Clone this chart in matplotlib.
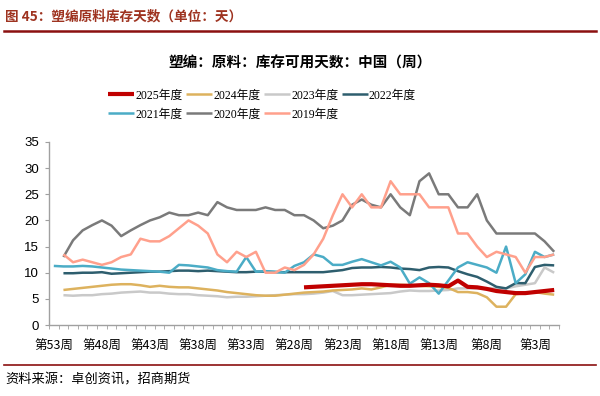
import matplotlib
matplotlib.use("Agg")
import matplotlib.pyplot as plt
import numpy as np

nan = np.nan

weeks = ["第%d周" % w for w in range(53, 0, -1)]

s2025 = [nan] * 26 + [7.2, 7.3, 7.4, 7.5, 7.6, 7.7, 7.8, 7.8, 7.7, 7.6, 7.5, 7.5, 7.6,
                      7.7, 7.6, 7.4, 8.5, 7.3, 7.2, 6.9, 6.5, 6.3, 6.1, 6.1, 6.3, 6.5, 6.7]

s2024 = [nan, 6.7, 6.9, 7.1, 7.3, 7.5, 7.7, 7.8, 7.8, 7.6, 7.3, 7.5, 7.3, 7.2, 7.2, 7.0,
         6.8, 6.6, 6.3, 6.1, 5.9, 5.7, 5.6, 5.6, 5.8, 6.0, 6.2, 6.3, 6.4, 6.6, 6.7, 6.8,
         7.0, 6.8, 7.2, 7.7, 7.7, 7.6, 7.5, 7.4, 7.3, 7.1, 6.3, 6.3, 6.1, 5.3, 3.5, 3.5,
         5.9, 6.1, 6.3, 6.0, 5.8]

s2023 = [nan, 5.7, 5.6, 5.7, 5.7, 5.9, 6.0, 6.2, 6.3, 6.4, 6.2, 6.2, 6.0, 5.9, 5.9, 5.7,
         5.6, 5.5, 5.3, 5.4, 5.4, 5.5, 5.6, 5.7, 5.8, 5.9, 5.9, 6.0, 6.2, 6.5, 5.7, 5.7,
         5.8, 5.9, 6.0, 6.1, 6.4, 6.6, 6.5, 6.5, 6.6, 6.7, 7.0, 7.0, 7.0, 7.0, 7.0, 7.0,
         7.4, 7.7, 8.0, 11.0, 10.0]

s2022 = [nan, 9.9, 9.9, 10.0, 10.0, 10.1, 9.8, 9.9, 10.0, 10.1, 10.2, 10.2, 10.3, 10.4,
         10.4, 10.3, 10.4, 10.3, 10.2, 10.1, 10.1, 10.2, 10.2, 10.1, 10.1, 10.1, 10.1,
         10.1, 10.1, 10.3, 10.5, 10.9, 11.0, 11.0, 11.1, 11.0, 10.8, 10.7, 10.5, 11.0,
         11.1, 11.0, 10.3, 9.7, 9.2, 8.3, 7.3, 7.0, 8.0, 8.0, 11.1, 11.5, 11.4]

s2021 = [11.3, 11.2, 11.2, 11.3, 11.2, 11.0, 10.8, 10.6, 10.5, 10.4, 10.3, 10.2, 10.0,
         11.5, 11.4, 11.2, 11.0, 10.5, 10.3, 10.2, 13.0, 10.2, 10.3, 10.2, 10.0, 11.3,
         12.0, 13.5, 13.0, 11.5, 11.5, 12.1, 12.6, 12.0, 11.4, 12.1, 11.0, 7.9, 9.1, 8.0,
         6.0, 8.5, 11.0, 12.0, 11.5, 11.0, 10.0, 15.0, 8.0, 9.7, 14.0, 13.0, 13.5]

s2020 = [nan, 13.0, 16.2, 18.1, 19.1, 20.0, 19.0, 17.0, 18.1, 19.1, 20.0, 20.6, 21.5,
         21.0, 21.0, 21.5, 21.0, 23.5, 22.5, 22.0, 22.0, 22.0, 22.5, 22.0, 22.0, 21.0,
         21.0, 20.0, 18.5, 19.0, 20.0, 23.0, 24.0, 23.0, 22.5, 25.0, 22.5, 21.0, 27.5,
         29.0, 25.0, 25.0, 22.5, 22.5, 25.0, 20.0, 17.5, 17.5, 17.5, 17.5, 17.5, 16.0, 14.0]

s2019 = [nan, 13.5, 12.0, 12.5, 12.0, 11.5, 12.0, 13.0, 13.5, 16.5, 16.0, 16.0, 17.0,
         18.5, 20.0, 19.0, 17.5, 13.5, 12.0, 14.0, 13.0, 14.0, 10.0, 10.0, 11.0, 10.5,
         11.5, 13.5, 16.5, 21.0, 25.0, 22.5, 25.0, 22.5, 22.5, 27.5, 25.0, 25.0, 25.0,
         22.5, 22.5, 22.5, 17.5, 17.5, 15.0, 13.0, 14.0, 13.5, 13.0, 10.0, 13.0, 13.0, 13.5]

cjk = ["Noto Sans CJK SC", "DejaVu Sans"]
serif_cjk = ["Liberation Serif", "Noto Sans CJK SC"]
plt.rcParams["font.family"] = cjk

fig = plt.figure(figsize=(6, 3.96), dpi=100)
ax = fig.add_axes([49 / 600, 1 - 325 / 396, 510 / 600, 183 / 396])

x = np.arange(len(weeks))
series = [
    ("2025年度", s2025, "#C00000", 3.0, 7),
    ("2024年度", s2024, "#DDB25E", 1.8, 2),
    ("2023年度", s2023, "#C9C9C9", 1.8, 1),
    ("2022年度", s2022, "#2E5E6E", 1.8, 3),
    ("2021年度", s2021, "#4BACC6", 1.8, 4),
    ("2020年度", s2020, "#7A7A7A", 1.8, 5),
    ("2019年度", s2019, "#FFA08C", 1.8, 6),
]
lines = {}
for name, vals, col, lw, z in series:
    (ln,) = ax.plot(x, vals, color=col, lw=lw, zorder=z, solid_capstyle="butt")
    lines[name] = ln

ax.set_xlim(-0.5, len(weeks) - 0.5)
ax.set_ylim(0, 35)
ax.set_yticks(np.arange(0, 36, 5))
for lab in ax.get_yticklabels():
    lab.set_family("Liberation Sans")
    lab.set_fontsize(9.5)

ax.set_xticks(x[::5])
ax.set_xticklabels(weeks[::5], fontsize=9)
ax.set_xticks(np.arange(-0.5, len(weeks), 1), minor=True)
ax.tick_params(axis="x", which="major", length=0, pad=11)
ax.tick_params(axis="x", which="minor", length=3, color="#A0A0A0")
ax.tick_params(axis="y", length=3, color="#A0A0A0", pad=4)

for sp in ["top", "right"]:
    ax.spines[sp].set_visible(False)
for sp in ["left", "bottom"]:
    ax.spines[sp].set_color("#A0A0A0")
    ax.spines[sp].set_linewidth(1.0)

# row-major legend order (matplotlib fills columns first)
order = ["2025年度", "2021年度", "2024年度", "2020年度", "2023年度", "2019年度", "2022年度"]
fig.legend([lines[n] for n in order], order, ncol=4, loc="center",
           bbox_to_anchor=(262 / 600, 1 - 105 / 396), frameon=False,
           prop={"family": serif_cjk, "size": 8.5}, handlelength=2.2,
           handletextpad=0.1, columnspacing=0.3, labelspacing=0.6)

fig.text(5 / 600, 1 - 16 / 396, "图 45：塑编原料库存天数（单位：天）", fontsize=9.8,
         fontweight="bold", color="#9E3320", va="center", ha="left")
fig.add_artist(plt.Line2D([4 / 600, 596 / 600], [1 - 31 / 396, 1 - 31 / 396],
                          color="#8B1010", lw=1.8))
fig.text(300 / 600, 1 - 63 / 396, "塑编：原料：库存可用天数：中国（周）", fontsize=10.5,
         fontweight="bold", color="black", va="center", ha="center")

fig.add_artist(plt.Line2D([4 / 600, 596 / 600], [1 - 365 / 396, 1 - 365 / 396],
                          color="#8B1010", lw=1.2))
fig.text(5 / 600, 1 - 380 / 396, "资料来源：卓创资讯，招商期货", fontsize=9.5,
         color="black", va="center", ha="left")

fig.savefig("out.png", dpi=100)
